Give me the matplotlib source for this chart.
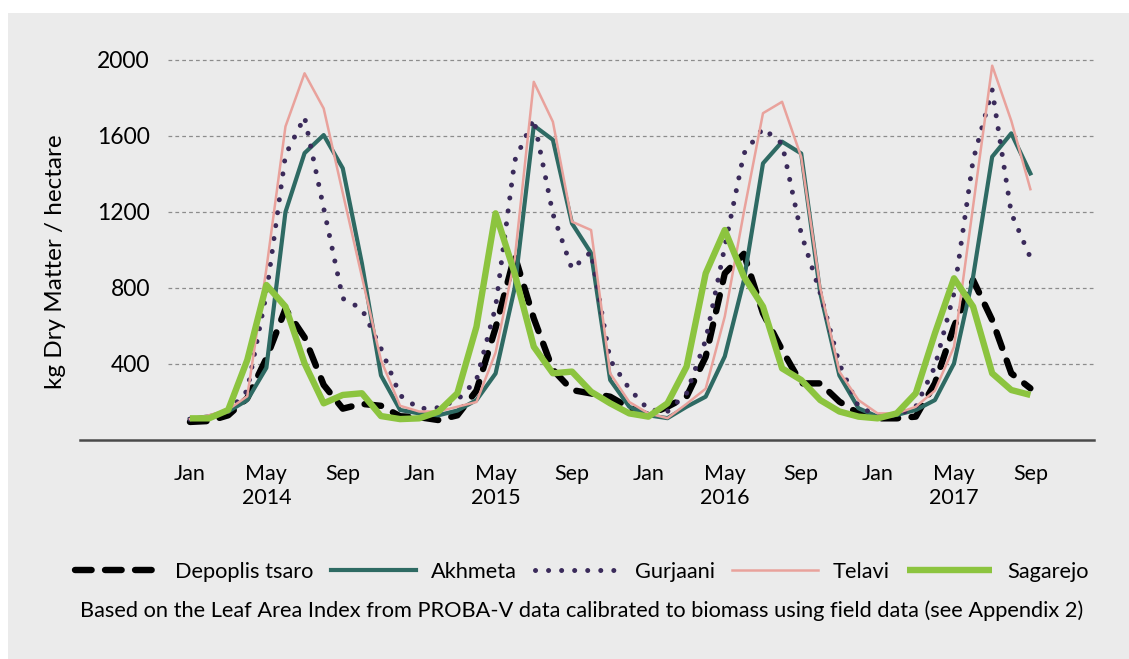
import matplotlib
matplotlib.use('Agg')
import matplotlib.pyplot as plt
from matplotlib.patches import Rectangle
import numpy as np

# -----------------------data: monthly biomass, Jan 2014 .. Sep 2017-----------------------
months = np.arange(45)   # 0 = Jan 2014

depoplis = [95, 100, 130, 220, 430, 690, 540, 290, 165, 190, 180, 125,
            120, 105, 130, 260, 590, 970, 640, 370, 263, 245, 228, 170,
            131, 175, 228, 438, 877, 980, 667, 474, 298, 298, 202,
            140, 114, 114, 123, 298, 596, 842, 631, 351, 272]
akhmeta = [110, 125, 150, 210, 380, 1200, 1510, 1605, 1430, 930, 340, 158,
           140, 130, 155, 210, 350, 800, 1655, 1580, 1140, 984, 316, 175,
           130, 115, 175, 228, 440, 840, 1456, 1570, 1508, 772, 340,
           167, 123, 132, 158, 210, 403, 859, 1491, 1614, 1403]
gurjaani = [110, 120, 150, 260, 770, 1500, 1700, 1220, 745, 690, 482, 235,
            165, 170, 210, 316, 700, 1470, 1690, 1190, 900, 990, 420, 270,
            160, 150, 246, 526, 1017, 1508, 1640, 1560, 1087, 772, 400,
            175, 130, 130, 175, 386, 772, 1473, 1842, 1193, 960]
telavi = [110, 130, 160, 230, 900, 1650, 1930, 1745, 1300, 860, 420, 180,
          150, 150, 175, 200, 460, 950, 1885, 1675, 1149, 1105, 350, 200,
          140, 115, 190, 270, 650, 1200, 1720, 1780, 1490, 800, 360,
          210, 140, 140, 175, 260, 490, 1230, 1970, 1680, 1320]
sagarejo = [114, 114, 158, 421, 816, 702, 403, 193, 237, 246, 126, 110,
            114, 149, 246, 596, 1193, 877, 491, 351, 360, 254, 193, 140,
            123, 193, 386, 877, 1105, 860, 702, 377, 316, 210, 150,
            123, 114, 140, 246, 561, 851, 702, 351, 263, 237]

x_ticks = [0, 4, 8, 12, 16, 20, 24, 28, 32, 36, 40, 44]
x_labels = ['Jan', 'May\n2014', 'Sep', 'Jan', 'May\n2015', 'Sep',
            'Jan', 'May\n2016', 'Sep', 'Jan', 'May\n2017', 'Sep']
y_ticks = [400, 800, 1200, 1600, 2000]

# -----------------------fig configuration-----------------------
plt.rcParams['font.family'] = ['Lato', 'DejaVu Sans']
panel_gray = '#ebebeb'
black = '#000000'
teal = '#2e6a63'
purple = '#3a2a5a'
pink = '#e9a29c'
green = '#8cc43f'

fig = plt.figure(figsize=(11.29, 6.59), dpi=100)
fig.patches.append(Rectangle((8 / 1129, 0), 1, 1 - 13 / 659, transform=fig.transFigure,
                             facecolor=panel_gray, edgecolor='none', zorder=-10))
ax = fig.add_axes([168 / 1129, 219 / 659, (1094 - 168) / 1129, (440 - 41) / 659])
ax.set_facecolor('none')

# gridlines + baseline
for yt in y_ticks:
    ax.axhline(yt, color='#8c8c8c', linewidth=0.9, dashes=(3, 2.5), zorder=1)
ax.axhline(0, xmin=-88 / 926, xmax=1, color='#4a4a4a', linewidth=1.8, clip_on=False, zorder=2)

# series
l1, = ax.plot(months, depoplis, color=black, linewidth=4.6, dashes=(2.6, 2.1),
              dash_capstyle='round', label='Depoplis tsaro', zorder=3)
l2, = ax.plot(months, akhmeta, color=teal, linewidth=3.0, label='Akhmeta', zorder=4)
l3, = ax.plot(months, gurjaani, color=purple, linewidth=3.6, linestyle=(0, (0.01, 2.6)),
              dash_capstyle='round', label='Gurjaani', zorder=5)
l4, = ax.plot(months, telavi, color=pink, linewidth=1.8, label='Telavi', zorder=6)
l5, = ax.plot(months, sagarejo, color=green, linewidth=4.6, solid_capstyle='butt',
              label='Sagarejo', zorder=7)

ax.set_xlim(-1.15, 47.33)
ax.set_ylim(0, 2100)
ax.set_xticks(x_ticks)
ax.set_xticklabels(x_labels, fontsize=15.5, linespacing=1.25, va='top')
ax.set_yticks(y_ticks)
ax.set_yticklabels([str(v) for v in y_ticks], fontsize=16.5)
ax.tick_params(axis='both', length=0)
ax.tick_params(axis='x', pad=17)
ax.tick_params(axis='y', pad=13)
for s in ax.spines.values():
    s.set_visible(False)

fig.text(55 / 1129, 1 - 262 / 659, 'kg Dry Matter / hectare', rotation=90,
         fontsize=17.5, ha='center', va='center')

fig.legend([l1, l2, l3, l4, l5], ['Depoplis tsaro', 'Akhmeta', 'Gurjaani', 'Telavi', 'Sagarejo'],
           loc='center', bbox_to_anchor=(582 / 1129, 1 - 572 / 659), ncol=5, frameon=False,
           fontsize=15.7, handlelength=3.9, handletextpad=0.7, columnspacing=0.8)

fig.text(582 / 1129, 1 - 611 / 659,
         'Based on the Leaf Area Index from PROBA-V data calibrated to biomass using field data (see Appendix 2)',
         fontsize=15.7, ha='center', va='center')

plt.savefig('out.png', dpi=100)
